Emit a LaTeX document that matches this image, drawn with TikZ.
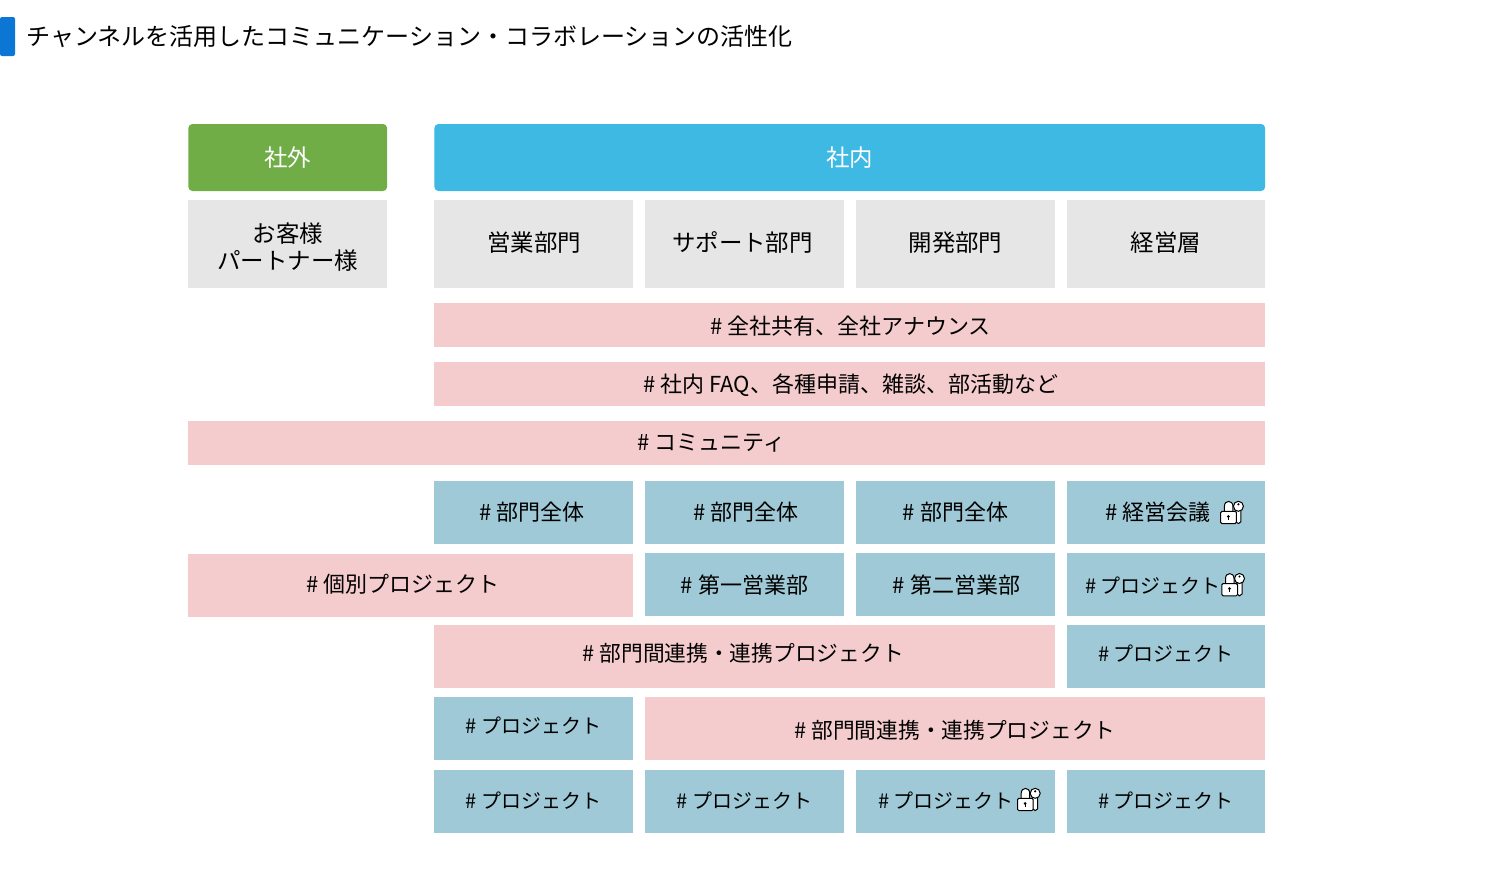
\documentclass[tikz,border=0pt]{standalone}
\usepackage{fontspec}
\setmainfont{Noto Sans CJK JP}
\definecolor{tagblue}{HTML}{0B76D3}
\definecolor{outgreen}{HTML}{70AD47}
\definecolor{inblue}{HTML}{3DB9E3}
\definecolor{deptgray}{HTML}{E6E6E6}
\definecolor{openpink}{HTML}{F4CCCD}
\definecolor{closedteal}{HTML}{9FC9D6}
\newcommand\nudge[1]{\hspace*{#1\dimexpr1.5pt\relax}}
\tikzset{
	vtext/.style = {text height=14pt+6.3pt+(#1)*0.75pt, text depth=14pt-6.3pt-(#1)*0.75pt},
	cell/.style = {inner sep=0, align=center, text=black, font=\fontsize{16.5pt}{20.25pt}\selectfont},
	bigcell/.style = {font=\fontsize{17.6pt}{20.25pt}\selectfont},
	smallcell/.style = {font=\fontsize{15pt}{20.25pt}\selectfont},
	crosscell/.style = {font=\fontsize{16.3pt}{20.25pt}\selectfont},
	headbox/.style = {cell, bigcell, rounded corners=3pt, text=white, minimum height=50.25pt},
	deptbox/.style = {cell, bigcell, fill=deptgray, minimum height=66pt},
	onerow/.style = {minimum width=149pt},
	pinkbar/.style = {cell, fill=openpink, minimum height=33pt},
	chanbox/.style = {cell, fill=closedteal, minimum height=47.25pt},
	chanpink/.style = {cell, fill=openpink, minimum height=47.25pt},
	lockkey/.pic = {
		\draw[black, fill=white, line width=0.75pt] (-5,-6) -- (-5,-11) .. controls (-5,-17.5) and (3.5,-17.5) .. (3.5,-11) -- (3.5,-6);
		\draw[black, fill=white, line width=0.75pt] (11.5,-7) -- (11.5,4.5) -- (9,6.3) -- (6.5,4.5) -- (6.5,-7) -- cycle;
		\draw[black, fill=white, line width=0.75pt] (9,-11) circle (5);
		\fill[black] (9,-13) circle (1.2);
		\draw[black, fill=white, line width=0.75pt, rounded corners=1pt] (-8.7,-6) rectangle (7,6.3);
		\fill[black] (-1,-0.8) circle (1.5);
		\fill[black] (-1.5,-0.8) rectangle (-0.5,2.5);
	}
}
\begin{document}
\begin{tikzpicture}[x=0.75pt, y=-0.75pt]
	\useasboundingbox (0,0) rectangle (1500,878);
	\fill[tagblue, rounded corners=1.5pt] (0,17) rectangle (15,56);
	\node[anchor=west, inner sep=0, font=\fontsize{18pt}{20pt}\selectfont] (title) at (26,36.5) {チャンネルを活用したコミュニケーション・コラボレーションの活性化};

	% headers
	\node[headbox, vtext=0.5, fill=outgreen, onerow] (outside) at (287.75,157.5) {社外};
	\node[headbox, vtext=0.5, fill=inblue, minimum width=623pt] (inside) at (849.75,157.5) {社内};

	% departments
	\node[deptbox, onerow] (guest) at (287.75,244) {\rule{0pt}{19.3pt}お客様\\パートナー様};
	\node[deptbox, vtext=-1, onerow] (sales) at (533.75,244) {\nudge{0.5}営業部門};
	\node[deptbox, vtext=-1, onerow] (support) at (744.5,244) {\nudge{-2}サポート部門};
	\node[deptbox, vtext=-1, onerow] (dev) at (955.5,244) {開発部門};
	\node[deptbox, vtext=-1, onerow] (exec) at (1166,244) {経営層};

	% open channels
	\node[pinkbar, vtext=1, minimum width=623pt] (allhands) at (849.75,325) {\nudge{1}\# 全社共有、全社アナウンス};
	\node[pinkbar, vtext=0, minimum width=623pt] (faq) at (849.75,384) {\nudge{1}\# 社内 FAQ、各種申請、雑談、部活動など};
	\node[pinkbar, vtext=-1, minimum width=807.5pt] (community) at (726.75,443) {\nudge{-15}\# コミュニティ};

	% department channels
	\node[chanbox, vtext=-0.5, onerow] (salesall) at (533.75,512.5) {\nudge{-2}\# 部門全体};
	\node[chanbox, vtext=-0.5, onerow] (supportall) at (744.5,512.5) {\nudge{1.5}\# 部門全体};
	\node[chanbox, vtext=-0.5, onerow] (devall) at (955.5,512.5) {\# 部門全体};
	\node[chanbox, vtext=-0.5, onerow] (execmeet) at (1166,512.5) {\nudge{-8}\# 経営会議};
	\pic at (1229.4,517.3) {lockkey};

	\node[chanpink, vtext=-1, minimum width=333.5pt] (single) at (410.75,585) {\nudge{-7.5}\# 個別プロジェクト};
	\node[chanbox, vtext=1, onerow] (first) at (744.5,584) {\# 第一営業部};
	\node[chanbox, vtext=1, onerow] (second) at (955.5,584) {\nudge{1}\# 第二営業部};
	\node[chanbox, smallcell, vtext=1, onerow] (execproj) at (1166,584) {\nudge{-13}\# プロジェクト};
	\pic at (1230.5,589.5) {lockkey};

	\node[chanpink, crosscell, vtext=-3, minimum width=465.5pt] (crossa) at (744.75,656) {\nudge{-1.5}\# 部門間連携・連携プロジェクト};
	\node[chanbox, smallcell, vtext=-3, onerow] (projc) at (1166,656) {\# プロジェクト};

	\node[chanbox, smallcell, vtext=-3, onerow] (proja) at (533.75,728) {\# プロジェクト};
	\node[chanpink, crosscell, vtext=2, minimum width=465pt] (crossb) at (955,728) {\# 部門間連携・連携プロジェクト};

	\node[chanbox, smallcell, vtext=-1.5, onerow] (projd) at (533.75,801.5) {\# プロジェクト};
	\node[chanbox, smallcell, vtext=-1.5, onerow] (proje) at (744.5,801.5) {\# プロジェクト};
	\node[chanbox, smallcell, vtext=-1.5, onerow] (projf) at (955.5,801.5) {\nudge{-9.5}\# プロジェクト};
	\pic at (1026.2,804.3) {lockkey};
	\node[chanbox, smallcell, vtext=-1.5, onerow] (projg) at (1166,801.5) {\# プロジェクト};
\end{tikzpicture}
\end{document}
